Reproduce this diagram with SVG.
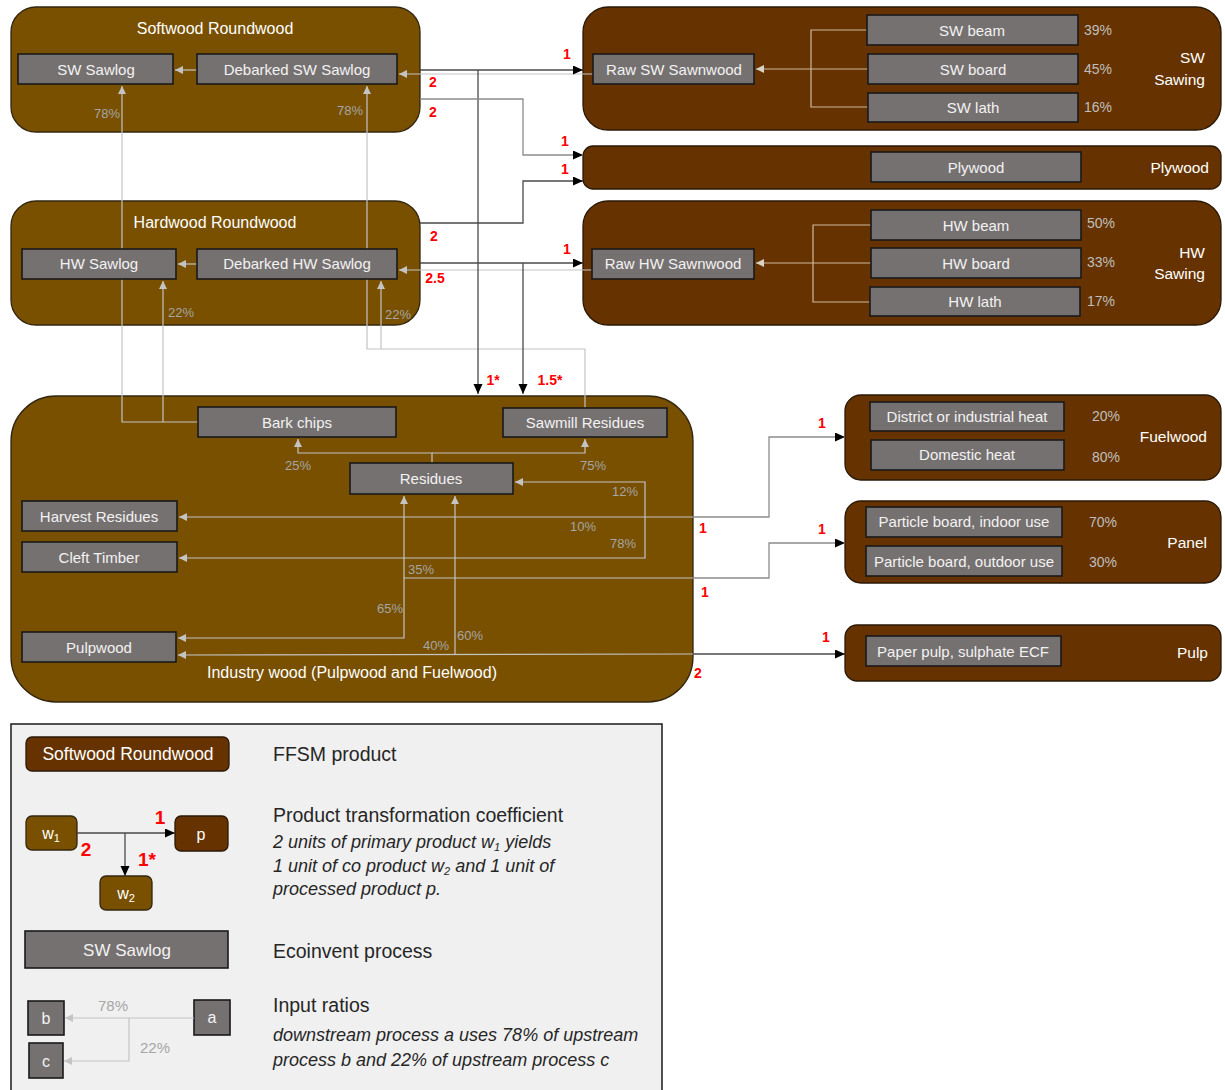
<svg xmlns="http://www.w3.org/2000/svg" width="1225" height="1090" viewBox="0 0 1225 1090">
<style>
text{font-family:"Liberation Sans",Arial,sans-serif}
.lc{fill:#785000;stroke:#33260f;stroke-width:1.3}
.dc{fill:#663300;stroke:#2a1806;stroke-width:1.3}
.pb{fill:#767171;stroke:#1a1a1a;stroke-width:1.6}
.bt{font-size:15px;fill:#f2f2f2;text-anchor:middle}
.ct{font-size:16px;fill:#ffffff;text-anchor:middle}
.ce{font-size:15.5px;fill:#ffffff;text-anchor:end}
.pc{font-size:13px;fill:#a6a6a6;text-anchor:middle}
.pd{font-size:14px;fill:#bfbfbf}
.rd{font-size:14px;fill:#ff0000;font-weight:bold;text-anchor:middle}
.gl{stroke:#c4c4c4;stroke-width:1.2;fill:none}
.tl{stroke:#cdb99e;stroke-width:1.2;fill:none}
.bl{stroke:#4a4a4a;stroke-width:1.3;fill:none}
.ml{stroke:#8c8c8c;stroke-width:1.3;fill:none}
.lg{font-size:19.5px;fill:#262626}
.li{font-size:18px;fill:#262626;font-style:italic}
</style>
<defs>
<marker id="ab" markerUnits="userSpaceOnUse" markerWidth="11" markerHeight="10" refX="10" refY="4.5" orient="auto"><path d="M0,0 L10,4.5 L0,9 z" fill="#000"/></marker>
<marker id="ag" markerUnits="userSpaceOnUse" markerWidth="9" markerHeight="9" refX="8" refY="4" orient="auto"><path d="M0,0 L8,4 L0,8 z" fill="#c4c4c4"/></marker>
<marker id="at" markerUnits="userSpaceOnUse" markerWidth="9" markerHeight="9" refX="8" refY="4" orient="auto"><path d="M0,0 L8,4 L0,8 z" fill="#d9d2c8"/></marker>
</defs>
<rect x="0" y="0" width="1225" height="1090" fill="#ffffff"/>

<!-- containers -->
<g id="softwood-roundwood"><rect class="lc" x="11" y="7" width="409" height="125" rx="25"/><text class="ct" x="215" y="34">Softwood Roundwood</text><text class="pc" x="107" y="118">78%</text><text class="pc" x="350" y="115">78%</text></g>
<g id="hardwood-roundwood"><rect class="lc" x="11" y="201" width="409" height="124" rx="25"/><text class="ct" x="215" y="228">Hardwood Roundwood</text><text class="pc" x="181" y="317">22%</text><text class="pc" x="398" y="319">22%</text></g>
<g id="sw-sawing"><rect class="dc" x="583" y="7" width="638" height="123" rx="25"/><text class="ce" x="1205" y="63">SW</text><text class="ce" x="1205" y="85">Sawing</text><text class="pd" x="1084" y="35">39%</text><text class="pd" x="1084" y="74">45%</text><text class="pd" x="1084" y="112">16%</text></g>
<g id="plywood"><rect class="dc" x="583" y="146" width="638" height="43" rx="10"/><text class="ce" x="1209" y="173">Plywood</text></g>
<g id="hw-sawing"><rect class="dc" x="583" y="201" width="638" height="124" rx="25"/><text class="ce" x="1205" y="258">HW</text><text class="ce" x="1205" y="279">Sawing</text><text class="pd" x="1087" y="228">50%</text><text class="pd" x="1087" y="267">33%</text><text class="pd" x="1087" y="306">17%</text></g>
<g id="industry-wood"><rect class="lc" x="11" y="396" width="682" height="306" rx="45"/><text class="ct" x="352" y="678">Industry wood (Pulpwood and Fuelwood)</text>
<text class="pc" x="298" y="470">25%</text><text class="pc" x="593" y="470">75%</text><text class="pc" x="625" y="496">12%</text><text class="pc" x="583" y="531">10%</text><text class="pc" x="623" y="548">78%</text><text class="pc" x="421" y="574">35%</text><text class="pc" x="390" y="613">65%</text><text class="pc" x="470" y="640">60%</text><text class="pc" x="436" y="650">40%</text></g>
<g id="fuelwood"><rect class="dc" x="845" y="395" width="376" height="85" rx="16"/><text class="ce" x="1207" y="442">Fuelwood</text><text class="pd" x="1092" y="421">20%</text><text class="pd" x="1092" y="462">80%</text></g>
<g id="panel"><rect class="dc" x="845" y="501" width="376" height="82" rx="16"/><text class="ce" x="1207" y="548">Panel</text><text class="pd" x="1089" y="527">70%</text><text class="pd" x="1089" y="567">30%</text></g>
<g id="pulp"><rect class="dc" x="845" y="625" width="376" height="56" rx="12"/><text class="ce" x="1208" y="658">Pulp</text></g>

<!-- connectors -->
<g id="connectors">
<path class="gl" d="M197,70 L175,70" marker-end="url(#ag)"/>
<path class="gl" d="M593,74 L399,74" marker-end="url(#ag)"/>
<path class="gl" d="M197,264 L178,264" marker-end="url(#ag)"/>
<path class="gl" d="M592,270 L399,270" marker-end="url(#ag)"/>
<path class="gl" d="M198,422 L122,422 L122,86" marker-end="url(#ag)"/>
<path class="gl" d="M163,422 L163,281" marker-end="url(#ag)"/>
<path class="gl" d="M585,408 L585,349 L367,349 L367,86" marker-end="url(#ag)"/>
<path class="gl" d="M381,349 L381,281" marker-end="url(#ag)"/>
<path class="gl" d="M432,463 L432,453 L298,453 L298,439" marker-end="url(#ag)"/>
<path class="gl" d="M432,453 L585,453 L585,439" marker-end="url(#ag)"/>
<path class="gl" d="M693,517 L179,517" marker-end="url(#ag)"/>
<path class="gl" d="M645,517 L645,482 L515,482" marker-end="url(#ag)"/>
<path class="gl" d="M645,517 L645,558 L179,558" marker-end="url(#ag)"/>
<path class="gl" d="M693,578 L404,578 L404,638 L178,638" marker-end="url(#ag)"/>
<path class="gl" d="M404,578 L404,496" marker-end="url(#ag)"/>
<path class="gl" d="M693,654 L178,655" marker-end="url(#ag)"/>
<path class="gl" d="M455,654 L455,496" marker-end="url(#ag)"/>
<path class="tl" d="M867,30 L811,30 L811,107 L868,107"/>
<path class="tl" d="M868,69 L756,69" marker-end="url(#at)"/>
<path class="tl" d="M871,225 L813,225 L813,302 L870,302"/>
<path class="tl" d="M871,263 L756,263" marker-end="url(#at)"/>
<path class="bl" d="M420,70 L583,70" marker-end="url(#ab)"/>
<path class="bl" d="M478,70 L478,394" marker-end="url(#ab)"/>
<path class="ml" d="M420,99 L523,99 L523,155 L583,155" marker-end="url(#ab)"/>
<path class="bl" d="M420,223 L523,223 L523,181 L583,181" marker-end="url(#ab)"/>
<path class="bl" d="M420,263 L583,263" marker-end="url(#ab)"/>
<path class="bl" d="M523,263 L523,394" marker-end="url(#ab)"/>
<path class="ml" d="M693,517 L769,517 L769,437 L845,437" marker-end="url(#ab)"/>
<path class="ml" d="M693,578 L769,578 L769,543 L845,543" marker-end="url(#ab)"/>
<path class="bl" d="M693,654 L845,654" marker-end="url(#ab)"/>
<text class="rd" x="567" y="59">1</text>
<text class="rd" x="433" y="87">2</text>
<text class="rd" x="433" y="117">2</text>
<text class="rd" x="565" y="146">1</text>
<text class="rd" x="565" y="174">1</text>
<text class="rd" x="434" y="241">2</text>
<text class="rd" x="567" y="254">1</text>
<text class="rd" x="435" y="283">2.5</text>
<text class="rd" x="493" y="385">1*</text>
<text class="rd" x="550" y="385">1.5*</text>
<text class="rd" x="822" y="428">1</text>
<text class="rd" x="703" y="533">1</text>
<text class="rd" x="822" y="534">1</text>
<text class="rd" x="705" y="597">1</text>
<text class="rd" x="826" y="642">1</text>
<text class="rd" x="698" y="678">2</text>
</g>

<!-- process boxes -->
<g id="sw-sawlog"><rect class="pb" x="18" y="54" width="155" height="30"/><text class="bt" x="96" y="75">SW Sawlog</text></g>
<g id="debarked-sw-sawlog"><rect class="pb" x="197" y="54" width="200" height="30"/><text class="bt" x="297" y="75">Debarked SW Sawlog</text></g>
<g id="hw-sawlog"><rect class="pb" x="22" y="249" width="154" height="30"/><text class="bt" x="99" y="269">HW Sawlog</text></g>
<g id="debarked-hw-sawlog"><rect class="pb" x="197" y="249" width="200" height="30"/><text class="bt" x="297" y="269">Debarked HW Sawlog</text></g>
<g id="raw-sw-sawnwood"><rect class="pb" x="593" y="54" width="161" height="30"/><text class="bt" x="674" y="75">Raw SW Sawnwood</text></g>
<g id="sw-beam"><rect class="pb" x="867" y="15" width="211" height="30"/><text class="bt" x="972" y="36">SW beam</text></g>
<g id="sw-board"><rect class="pb" x="868" y="54" width="210" height="30"/><text class="bt" x="973" y="75">SW board</text></g>
<g id="sw-lath"><rect class="pb" x="868" y="93" width="210" height="29"/><text class="bt" x="973" y="113">SW lath</text></g>
<g id="plywood-proc"><rect class="pb" x="871" y="152" width="210" height="30"/><text class="bt" x="976" y="173">Plywood</text></g>
<g id="raw-hw-sawnwood"><rect class="pb" x="592" y="249" width="162" height="30"/><text class="bt" x="673" y="269">Raw HW Sawnwood</text></g>
<g id="hw-beam"><rect class="pb" x="871" y="210" width="210" height="30"/><text class="bt" x="976" y="231">HW beam</text></g>
<g id="hw-board"><rect class="pb" x="871" y="248" width="210" height="30"/><text class="bt" x="976" y="269">HW board</text></g>
<g id="hw-lath"><rect class="pb" x="870" y="287" width="210" height="29"/><text class="bt" x="975" y="307">HW lath</text></g>
<g id="bark-chips"><rect class="pb" x="198" y="407" width="198" height="30"/><text class="bt" x="297" y="428">Bark chips</text></g>
<g id="sawmill-residues"><rect class="pb" x="503" y="408" width="164" height="29"/><text class="bt" x="585" y="428">Sawmill Residues</text></g>
<g id="residues"><rect class="pb" x="350" y="463" width="163" height="31"/><text class="bt" x="431" y="484">Residues</text></g>
<g id="harvest-residues"><rect class="pb" x="22" y="501" width="155" height="30"/><text class="bt" x="99" y="522">Harvest Residues</text></g>
<g id="cleft-timber"><rect class="pb" x="22" y="542" width="155" height="30"/><text class="bt" x="99" y="563">Cleft Timber</text></g>
<g id="pulpwood"><rect class="pb" x="22" y="632" width="154" height="30"/><text class="bt" x="99" y="653">Pulpwood</text></g>
<g id="district-heat"><rect class="pb" x="870" y="402" width="194" height="29"/><text class="bt" x="967" y="422">District or industrial heat</text></g>
<g id="domestic-heat"><rect class="pb" x="871" y="440" width="193" height="30"/><text class="bt" x="967" y="460">Domestic heat</text></g>
<g id="pb-indoor"><rect class="pb" x="866" y="507" width="196" height="30"/><text class="bt" x="964" y="527">Particle board, indoor use</text></g>
<g id="pb-outdoor"><rect class="pb" x="866" y="546" width="196" height="30"/><text class="bt" x="964" y="567">Particle board, outdoor use</text></g>
<g id="paper-pulp"><rect class="pb" x="866" y="636" width="195" height="30"/><text class="bt" x="963" y="657">Paper pulp, sulphate ECF</text></g>

<!-- legend -->
<g id="legend">
<rect x="11" y="724" width="651" height="370" fill="#f0f0f0" stroke="#1a1a1a" stroke-width="1.5"/>
<rect class="dc" x="26" y="737" width="203" height="34" rx="6"/>
<text x="128" y="760" font-size="17.5" fill="#ffffff" text-anchor="middle">Softwood Roundwood</text>
<text class="lg" x="273" y="761">FFSM product</text>
<rect class="lc" x="26" y="816" width="51" height="34" rx="6"/>
<text x="51" y="839" font-size="16" fill="#ffffff" text-anchor="middle">w<tspan font-size="11" dy="3">1</tspan></text>
<rect class="dc" x="175" y="816" width="53" height="35" rx="6"/>
<text x="201" y="840" font-size="16" fill="#ffffff" text-anchor="middle">p</text>
<rect class="lc" x="100" y="876" width="52" height="34" rx="6"/>
<text x="126" y="899" font-size="16" fill="#ffffff" text-anchor="middle">w<tspan font-size="11" dy="3">2</tspan></text>
<path class="bl" d="M77,833 L175,833" marker-end="url(#ab)"/>
<path class="bl" d="M125,833 L125,876" marker-end="url(#ab)"/>
<text x="160" y="824" font-size="19" font-weight="bold" fill="#ff0000" text-anchor="middle">1</text>
<text x="86" y="856" font-size="19" font-weight="bold" fill="#ff0000" text-anchor="middle">2</text>
<text x="147" y="866" font-size="19" font-weight="bold" fill="#ff0000" text-anchor="middle">1*</text>
<text class="lg" x="273" y="822">Product transformation coefficient</text>
<text class="li" x="273" y="848">2 units of primary product w<tspan font-size="11" dy="3">1</tspan><tspan dy="-3"> yields</tspan></text>
<text class="li" x="273" y="872">1 unit of co product w<tspan font-size="11" dy="3">2</tspan><tspan dy="-3"> and 1 unit of</tspan></text>
<text class="li" x="273" y="895">processed product p.</text>
<rect class="pb" x="25" y="931" width="203" height="37"/>
<text x="127" y="956" font-size="17" fill="#f2f2f2" text-anchor="middle">SW Sawlog</text>
<text class="lg" x="273" y="958">Ecoinvent process</text>
<rect class="pb" x="28" y="1001" width="36" height="34"/>
<text x="46" y="1024" font-size="16" fill="#f2f2f2" text-anchor="middle">b</text>
<rect class="pb" x="29" y="1043" width="34" height="35"/>
<text x="46" y="1067" font-size="16" fill="#f2f2f2" text-anchor="middle">c</text>
<rect class="pb" x="194" y="1000" width="36" height="35"/>
<text x="212" y="1023" font-size="16" fill="#f2f2f2" text-anchor="middle">a</text>
<path class="gl" d="M194,1018 L65,1018" marker-end="url(#ag)"/>
<path class="gl" d="M129,1018 L129,1061 L64,1061" marker-end="url(#ag)"/>
<text x="113" y="1011" font-size="15" fill="#a6a6a6" text-anchor="middle">78%</text>
<text x="155" y="1053" font-size="15" fill="#a6a6a6" text-anchor="middle">22%</text>
<text class="lg" x="273" y="1012">Input ratios</text>
<text class="li" x="273" y="1041">downstream process a uses 78% of upstream</text>
<text class="li" x="273" y="1066">process b and 22% of upstream process c</text>
</g>
</svg>
